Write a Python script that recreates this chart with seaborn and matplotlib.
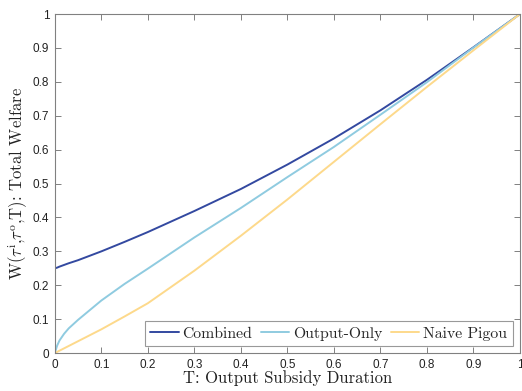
import matplotlib
matplotlib.use("Agg")
import matplotlib.pyplot as plt
import seaborn as sns
import pandas as pd

T = [0, 0.005, 0.01, 0.02, 0.03, 0.05, 0.1, 0.15, 0.2, 0.3, 0.4, 0.5, 0.6, 0.7, 0.8, 0.85, 0.9, 1.0]
combined = [0.25, 0.252, 0.255, 0.260, 0.265, 0.274, 0.300, 0.328, 0.357, 0.419, 0.484, 0.556, 0.633, 0.716, 0.806, 0.854, 0.902, 1.0]
output_only = [0.0, 0.022, 0.037, 0.057, 0.073, 0.098, 0.155, 0.204, 0.249, 0.341, 0.428, 0.519, 0.608, 0.703, 0.799, 0.850, 0.901, 1.0]
naive_pigou = [0.0, 0.0035, 0.007, 0.014, 0.021, 0.035, 0.070, 0.108, 0.147, 0.243, 0.346, 0.453, 0.564, 0.675, 0.785, 0.839, 0.893, 1.0]
series_names = ["Combined", "Output-Only", "Naive Pigou"]
colors = ["#3349a0", "#8fcbe0", "#fdd98b"]

df = pd.concat([
    pd.DataFrame({"T": T, "W": v, "series": n})
    for n, v in zip(series_names, [combined, output_only, naive_pigou])
])

sns.set_style("white")
plt.rcParams["mathtext.fontset"] = "cm"
plt.rcParams["font.family"] = ["Liberation Sans", "DejaVu Sans"]

fig = plt.figure(figsize=(5.22, 3.91), dpi=100)
ax = fig.add_axes([0.105, 0.097, 0.891, 0.867])

sns.lineplot(data=df, x="T", y="W", hue="series", hue_order=series_names,
             palette=colors, linewidth=1.4, ax=ax, legend=False, sort=False)

ax.set_xlim(0, 1)
ax.set_ylim(0, 1)
ax.set_xticks([i / 10 for i in range(11)])
ax.set_yticks([i / 10 for i in range(11)])
ax.set_xticklabels(["0", "0.1", "0.2", "0.3", "0.4", "0.5", "0.6", "0.7", "0.8", "0.9", "1"])
ax.set_yticklabels(["0", "0.1", "0.2", "0.3", "0.4", "0.5", "0.6", "0.7", "0.8", "0.9", "1"])
for s in ax.spines.values():
    s.set_visible(True)
    s.set_color("#808080")
    s.set_linewidth(0.8)
ax.tick_params(direction="in", length=4, width=0.7, color="#808080",
               labelsize=8.5, labelcolor="#222222", top=True, right=True,
               bottom=True, left=True, pad=4)

ax.set_xlabel("T: Output Subsidy Duration", fontfamily="cmr10", fontsize=12,
              labelpad=0, color="#222222")
ax.set_ylabel(r"W($\tau^{\mathrm{i}}$,$\tau^{\mathrm{o}}$,T): Total Welfare",
              fontfamily="cmr10", fontsize=12, labelpad=2, color="#222222")

handles = [plt.Line2D([], [], color=c, linewidth=1.4) for c in colors]
leg = ax.legend(handles, series_names, ncol=3, loc="lower right",
                prop={"family": "cmr10", "size": 11.3}, frameon=True, fancybox=False,
                handlelength=1.8, handletextpad=0.25, columnspacing=0.55,
                borderpad=0.35, borderaxespad=0.45)
leg.get_frame().set_edgecolor("#808080")
leg.get_frame().set_linewidth(0.8)

fig.savefig("out.png", dpi=100)
